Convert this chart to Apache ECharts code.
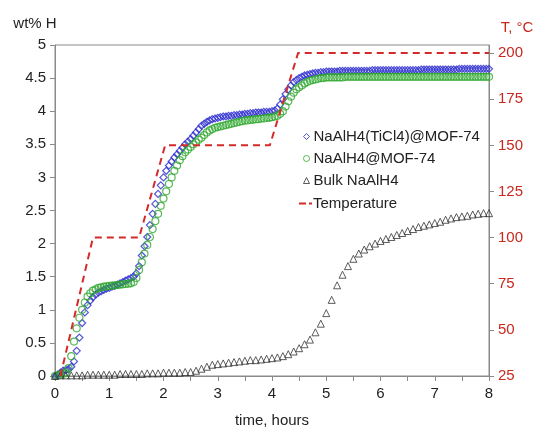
<!DOCTYPE html>
<html>
<head>
<meta charset="utf-8">
<script src="https://cdn.jsdelivr.net/npm/echarts@6/dist/echarts.min.js"></script>
<style>html,body{margin:0;padding:0;background:#fff}#c{width:538px;height:433px}</style>
</head>
<body>
<div id="c"></div>
<script>
// time, hours for the two MOF-74 series
var timeFine = [0,0.05,0.1,0.15,0.2,0.25,0.3,0.35,0.4,0.45,0.5,0.55,0.6,0.65,0.7,0.75,0.8,0.85,0.9,0.95,
  1.0,1.05,1.1,1.15,1.2,1.25,1.3,1.35,1.4,1.45,1.5,1.55,1.6,1.65,1.7,1.75,1.8,1.85,1.9,1.95,
  2.0,2.05,2.1,2.15,2.2,2.25,2.3,2.35,2.4,2.45,2.5,2.55,2.6,2.65,2.7,2.75,2.8,2.85,2.9,2.95,
  3.0,3.05,3.1,3.15,3.2,3.25,3.3,3.35,3.4,3.45,3.5,3.55,3.6,3.65,3.7,3.75,3.8,3.85,3.9,3.95,
  4.0,4.05,4.1,4.15,4.2,4.25,4.3,4.35,4.4,4.45,4.5,4.55,4.6,4.65,4.7,4.75,4.8,4.85,4.9,4.95,
  5.0,5.05,5.1,5.15,5.2,5.25,5.3,5.35,5.4,5.45,5.5,5.55,5.6,5.65,5.7,5.75,5.8,5.85,5.9,5.95,
  6.0,6.05,6.1,6.15,6.2,6.25,6.3,6.35,6.4,6.45,6.5,6.55,6.6,6.65,6.7,6.75,6.8,6.85,6.9,6.95,
  7.0,7.05,7.1,7.15,7.2,7.25,7.3,7.35,7.4,7.45,7.5,7.55,7.6,7.65,7.7,7.75,7.8,7.85,7.9,7.95,8.0];
// NaAlH4(TiCl4)@MOF-74, wt% H
var tiMof = [0,0.02,0.05,0.08,0.09,0.10,0.14,0.22,0.38,0.58,0.80,0.96,1.07,1.14,1.19,1.23,1.26,1.28,1.30,1.32,
  1.33,1.35,1.36,1.38,1.40,1.42,1.44,1.46,1.48,1.50,1.55,1.66,1.82,1.96,2.10,2.28,2.45,2.60,2.75,2.88,
  3.00,3.10,3.18,3.24,3.30,3.35,3.40,3.45,3.50,3.54,3.58,3.63,3.68,3.73,3.78,3.81,3.84,3.86,3.88,3.89,
  3.90,3.91,3.92,3.92,3.93,3.93,3.94,3.94,3.95,3.95,3.96,3.96,3.97,3.97,3.98,3.98,3.98,3.99,3.99,3.99,
  4.00,4.01,4.04,4.10,4.18,4.26,4.33,4.39,4.44,4.47,4.50,4.52,4.54,4.55,4.56,4.57,4.58,4.58,4.59,4.59,
  4.60,4.60,4.60,4.60,4.60,4.61,4.61,4.61,4.61,4.61,4.61,4.61,4.61,4.61,4.61,4.61,4.61,4.62,4.62,4.62,
  4.62,4.62,4.62,4.62,4.62,4.62,4.62,4.62,4.62,4.62,4.62,4.62,4.62,4.62,4.62,4.63,4.63,4.63,4.63,4.63,
  4.63,4.63,4.63,4.63,4.63,4.63,4.63,4.63,4.63,4.64,4.64,4.64,4.64,4.64,4.64,4.64,4.64,4.64,4.64,4.64,4.64];
// NaAlH4@MOF-74, wt% H
var mof = [0,0.01,0.02,0.03,0.05,0.12,0.30,0.52,0.72,0.88,1.00,1.11,1.20,1.25,1.29,1.31,1.33,1.34,1.35,1.355,
  1.36,1.365,1.37,1.375,1.38,1.385,1.39,1.395,1.40,1.42,1.48,1.60,1.72,1.85,1.98,2.10,2.22,2.34,2.45,2.57,
  2.68,2.79,2.90,3.00,3.10,3.18,3.26,3.32,3.38,3.42,3.46,3.50,3.53,3.57,3.60,3.64,3.68,3.71,3.73,3.75,
  3.76,3.77,3.78,3.79,3.80,3.81,3.82,3.83,3.84,3.85,3.86,3.86,3.87,3.87,3.88,3.88,3.89,3.89,3.90,3.90,
  3.91,3.92,3.93,3.96,4.00,4.07,4.15,4.22,4.28,4.33,4.36,4.39,4.42,4.44,4.46,4.47,4.48,4.49,4.50,4.50,
  4.51,4.51,4.51,4.51,4.51,4.51,4.51,4.52,4.52,4.52,4.52,4.52,4.52,4.52,4.52,4.52,4.52,4.52,4.52,4.52,
  4.52,4.52,4.52,4.52,4.52,4.52,4.52,4.52,4.52,4.52,4.52,4.52,4.52,4.52,4.52,4.52,4.52,4.52,4.52,4.52,
  4.52,4.52,4.52,4.52,4.52,4.52,4.52,4.52,4.52,4.52,4.52,4.52,4.52,4.52,4.52,4.52,4.52,4.52,4.52,4.52,4.52];
// time, hours for the bulk series
var timeBulk = [0,0.1,0.2,0.3,0.4,0.5,0.6,0.7,0.8,0.9,1.0,1.1,1.2,1.3,1.4,1.5,1.6,1.7,1.8,1.9,
  2.0,2.1,2.2,2.3,2.4,2.5,2.6,2.7,2.8,2.9,3.0,3.1,3.2,3.3,3.4,3.5,3.6,3.7,3.8,3.9,
  4.0,4.1,4.2,4.3,4.4,4.5,4.6,4.7,4.8,4.9,5.0,5.1,5.2,5.3,5.4,5.5,5.6,5.7,5.8,5.9,
  6.0,6.1,6.2,6.3,6.4,6.5,6.6,6.7,6.8,6.9,7.0,7.1,7.2,7.3,7.4,7.5,7.6,7.7,7.8,7.9,8.0];
// Bulk NaAlH4, wt% H
var bulk = [0,0.01,0.01,0.01,0.01,0.01,0.02,0.02,0.02,0.02,0.02,0.02,0.03,0.03,0.03,0.03,0.03,0.04,0.04,0.04,
  0.05,0.05,0.05,0.05,0.06,0.06,0.08,0.11,0.14,0.17,0.18,0.19,0.20,0.21,0.22,0.23,0.24,0.24,0.25,0.26,
  0.27,0.28,0.30,0.33,0.37,0.42,0.48,0.55,0.66,0.79,0.95,1.15,1.37,1.53,1.66,1.77,1.85,1.91,1.96,2.00,
  2.04,2.07,2.10,2.13,2.16,2.19,2.22,2.25,2.27,2.29,2.31,2.33,2.36,2.38,2.40,2.41,2.42,2.44,2.45,2.46,2.46];
// Temperature profile, °C
var tempTime = [0.1,0.7,1.55,2.03,3.96,4.48,8.0];
var tempC = [25,100,100,150,150,200,200];

var xTicks = [0,1,2,3,4,5,6,7,8];
var leftTicks = [0,0.5,1,1.5,2,2.5,3,3.5,4,4.5,5];
var rightTicks = [25,50,75,100,125,150,175,200];

function zip(a, b) { return a.map(function (v, i) { return [v, b[i]]; }); }

var FONT = 'Arial, "Liberation Sans", sans-serif';
var RED = '#c8281e';
var TXT = '#222';
var AX = '#8a8a8a';
var BLUE = '#2a2ad0';
var GREEN = '#2ea82e';

var chart = echarts.init(document.getElementById('c'), null, { renderer: 'canvas' });
chart.setOption({
  animation: false,
  backgroundColor: '#fff',
  grid: { left: 55, right: 49, top: 45, bottom: 53, show: true, borderColor: AX, borderWidth: 1, containLabel: false },
  legend: [{
    orient: 'vertical', left: 298, top: 124, itemWidth: 6, itemHeight: 6, itemGap: 7,
    textStyle: { fontFamily: FONT, fontSize: 15, color: TXT, padding: [0, 0, 0, -1] },
    data: [
      { name: 'NaAlH4(TiCl4)@MOF-74', icon: 'diamond', itemStyle: { color: 'transparent', borderColor: BLUE, borderWidth: 1 } },
      { name: 'NaAlH4@MOF-74', icon: 'circle', itemStyle: { color: 'transparent', borderColor: GREEN, borderWidth: 1 } },
      { name: 'Bulk NaAlH4', icon: 'triangle', itemStyle: { color: 'transparent', borderColor: '#333', borderWidth: 1 } }
    ]
  }, {
    orient: 'vertical', left: 294, top: 191, itemWidth: 13, itemHeight: 2,
    textStyle: { fontFamily: FONT, fontSize: 15, color: TXT, padding: [0, 0, 0, -4] },
    data: [{ name: 'Temperature', icon: 'path://M0,0H7V2H0Z M10,0H13V2H10Z', itemStyle: { color: '#d42a2a' } }]
  }],
  xAxis: {
    type: 'value', min: 0, max: 8, interval: 0.5,
    name: 'time, hours', nameLocation: 'middle', nameGap: 37,
    nameTextStyle: { fontFamily: FONT, fontSize: 15, color: TXT },
    axisLine: { lineStyle: { color: AX, width: 1 } },
    axisTick: { show: true, length: 5, lineStyle: { color: AX } },
    axisLabel: { fontFamily: FONT, fontSize: 15, color: TXT, margin: 10,
      formatter: function (v) { return xTicks.indexOf(v) >= 0 ? String(v) : ''; } },
    splitLine: { show: false }
  },
  yAxis: [{
    type: 'value', min: 0, max: 5, interval: 0.5, position: 'left',
    name: 'wt% H', nameLocation: 'end', nameGap: 14,
    nameTextStyle: { fontFamily: FONT, fontSize: 15, color: TXT, align: 'center', padding: [0, 40, 0, 0] },
    axisLine: { show: true, lineStyle: { color: AX, width: 1 } },
    axisTick: { show: true, length: 5, lineStyle: { color: AX } },
    axisLabel: { fontFamily: FONT, fontSize: 15, color: TXT, margin: 9,
      formatter: function (v) { return leftTicks.indexOf(v) >= 0 ? String(v) : ''; } },
    splitLine: { show: false }
  }, {
    type: 'value', min: 25, max: 204.4, interval: 25, position: 'right',
    name: 'T, °C', nameLocation: 'end', nameGap: 10,
    nameTextStyle: { fontFamily: FONT, fontSize: 15, color: RED, align: 'center', padding: [0, 0, 0, 56] },
    axisLine: { show: true, lineStyle: { color: AX, width: 1 } },
    axisTick: { show: true, length: 5, lineStyle: { color: AX } },
    axisLabel: { fontFamily: FONT, fontSize: 15, color: RED, margin: 9, showMaxLabel: false,
      formatter: function (v) { return rightTicks.indexOf(v) >= 0 ? String(v) : ''; } },
    splitLine: { show: false }
  }],
  series: [{
    name: 'NaAlH4(TiCl4)@MOF-74', type: 'scatter', yAxisIndex: 0,
    symbol: 'diamond', symbolSize: 7,
    itemStyle: { color: 'transparent', borderColor: BLUE, borderWidth: 1.2 },
    data: zip(timeFine, tiMof)
  }, {
    name: 'NaAlH4@MOF-74', type: 'scatter', yAxisIndex: 0,
    symbol: 'circle', symbolSize: 7,
    itemStyle: { color: 'transparent', borderColor: GREEN, borderWidth: 1.2 },
    data: zip(timeFine, mof)
  }, {
    name: 'Bulk NaAlH4', type: 'scatter', yAxisIndex: 0,
    symbol: 'triangle', symbolSize: 7,
    itemStyle: { color: 'transparent', borderColor: '#333', borderWidth: 1 },
    data: zip(timeBulk, bulk)
  }, {
    name: 'Temperature', type: 'line', yAxisIndex: 1,
    symbol: 'none', showSymbol: false,
    lineStyle: { color: '#d42a2a', width: 2, type: [7, 5] },
    itemStyle: { color: '#d42a2a' },
    data: zip(tempTime, tempC)
  }]
});
</script>
</body>
</html>
